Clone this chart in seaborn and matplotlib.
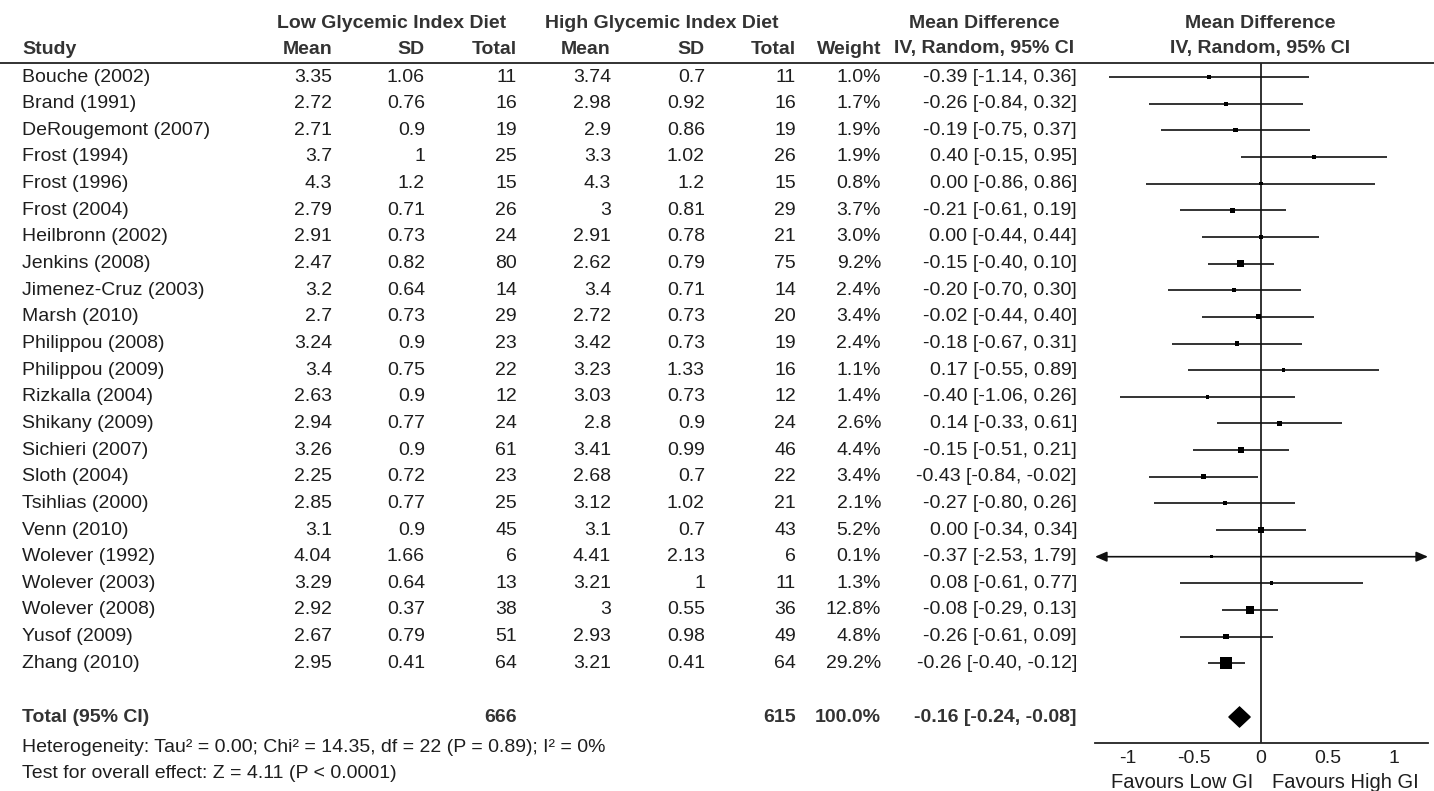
import numpy as np
import pandas as pd
import matplotlib
matplotlib.use("Agg")
import matplotlib.pyplot as plt
from matplotlib.lines import Line2D
import seaborn as sns

# ---- study data -------------------------------------------------------------
studies = ["Bouche (2002)", "Brand (1991)", "DeRougemont (2007)", "Frost (1994)",
           "Frost (1996)", "Frost (2004)", "Heilbronn (2002)", "Jenkins (2008)",
           "Jimenez-Cruz (2003)", "Marsh (2010)", "Philippou (2008)", "Philippou (2009)",
           "Rizkalla (2004)", "Shikany (2009)", "Sichieri (2007)", "Sloth (2004)",
           "Tsihlias (2000)", "Venn (2010)", "Wolever (1992)", "Wolever (2003)",
           "Wolever (2008)", "Yusof (2009)", "Zhang (2010)"]
low_mean = [3.35, 2.72, 2.71, 3.7, 4.3, 2.79, 2.91, 2.47, 3.2, 2.7, 3.24, 3.4,
            2.63, 2.94, 3.26, 2.25, 2.85, 3.1, 4.04, 3.29, 2.92, 2.67, 2.95]
low_sd = [1.06, 0.76, 0.9, 1, 1.2, 0.71, 0.73, 0.82, 0.64, 0.73, 0.9, 0.75,
          0.9, 0.77, 0.9, 0.72, 0.77, 0.9, 1.66, 0.64, 0.37, 0.79, 0.41]
low_n = [11, 16, 19, 25, 15, 26, 24, 80, 14, 29, 23, 22, 12, 24, 61, 23, 25, 45,
         6, 13, 38, 51, 64]
high_mean = [3.74, 2.98, 2.9, 3.3, 4.3, 3, 2.91, 2.62, 3.4, 2.72, 3.42, 3.23,
             3.03, 2.8, 3.41, 2.68, 3.12, 3.1, 4.41, 3.21, 3, 2.93, 3.21]
high_sd = [0.7, 0.92, 0.86, 1.02, 1.2, 0.81, 0.78, 0.79, 0.71, 0.73, 0.73, 1.33,
           0.73, 0.9, 0.99, 0.7, 1.02, 0.7, 2.13, 1, 0.55, 0.98, 0.41]
high_n = [11, 16, 19, 26, 15, 29, 21, 75, 14, 20, 19, 16, 12, 24, 46, 22, 21, 43,
          6, 11, 36, 49, 64]
weight = [1.0, 1.7, 1.9, 1.9, 0.8, 3.7, 3.0, 9.2, 2.4, 3.4, 2.4, 1.1, 1.4, 2.6,
          4.4, 3.4, 2.1, 5.2, 0.1, 1.3, 12.8, 4.8, 29.2]
mean_diff = [-0.39, -0.26, -0.19, 0.40, 0.00, -0.21, 0.00, -0.15, -0.20, -0.02,
             -0.18, 0.17, -0.40, 0.14, -0.15, -0.43, -0.27, 0.00, -0.37, 0.08,
             -0.08, -0.26, -0.26]
ci_low = [-1.14, -0.84, -0.75, -0.15, -0.86, -0.61, -0.44, -0.40, -0.70, -0.44,
          -0.67, -0.55, -1.06, -0.33, -0.51, -0.84, -0.80, -0.34, -2.53, -0.61,
          -0.29, -0.61, -0.40]
ci_high = [0.36, 0.32, 0.37, 0.95, 0.86, 0.19, 0.44, 0.10, 0.30, 0.40, 0.31, 0.89,
           0.26, 0.61, 0.21, -0.02, 0.26, 0.34, 1.79, 0.77, 0.13, 0.09, -0.12]

total_low_n = 666
total_high_n = 615
total_weight = 100.0
pooled_md, pooled_lo, pooled_hi = -0.16, -0.24, -0.08
heterogeneity = "Heterogeneity: Tau² = 0.00; Chi² = 14.35, df = 22 (P = 0.89); I² = 0%"
overall_effect = "Test for overall effect: Z = 4.11 (P < 0.0001)"
x_ticks = [-1, -0.5, 0, 0.5, 1]
x_tick_labels = ["-1", "-0.5", "0", "0.5", "1"]
favours_left = "Favours Low GI"
favours_right = "Favours High GI"

df = pd.DataFrame({
    "study": studies, "low_mean": low_mean, "low_sd": low_sd, "low_n": low_n,
    "high_mean": high_mean, "high_sd": high_sd, "high_n": high_n,
    "weight": weight, "md": mean_diff, "lo": ci_low, "hi": ci_high,
})

# ---- styling ----------------------------------------------------------------
sns.set_style("white")
plt.rcParams["font.family"] = ["Liberation Sans", "DejaVu Sans"]
TXT = "#1e1e1e"
HDR = "#333333"
FS = 14

W, H = 1434, 791
fig = plt.figure(figsize=(W / 100, H / 100), dpi=100)

# layout in pixel units
ROW0, ROWSTEP = 77.0, 26.65
df["y"] = ROW0 + ROWSTEP * np.arange(len(df))
Y_TOTAL, Y_HET, Y_TEST = 717, 747, 773
Y_H1, Y_H2 = 23, 49
LINE_Y, AXIS_Y = 63, 743
AX_L, AX_R = 1095, 1428

# table layer spanning the whole figure
tab = fig.add_axes([0, 0, 1, 1])
tab.set_xlim(0, W)
tab.set_ylim(H, 0)
tab.axis("off")

def fmt(v):
    return f"{v:g}"

X_STUDY = 22
col_right = {"low_mean": 332, "low_sd": 425, "low_n": 517,
             "high_mean": 611, "high_sd": 705, "high_n": 796,
             "weight": 881, "ci": 1077}

# header
hkw = dict(fontsize=FS, fontweight="bold", color=HDR, va="center")
tab.text(392, Y_H1, "Low Glycemic Index Diet", ha="center", **hkw)
tab.text(662, Y_H1, "High Glycemic Index Diet", ha="center", **hkw)
tab.text(984, Y_H1, "Mean Difference", ha="center", **hkw)
tab.text(X_STUDY, Y_H2, "Study", ha="left", **hkw)
for key, lab in [("low_mean", "Mean"), ("low_sd", "SD"), ("low_n", "Total"),
                 ("high_mean", "Mean"), ("high_sd", "SD"), ("high_n", "Total"),
                 ("weight", "Weight")]:
    tab.text(col_right[key], Y_H2, lab, ha="right", **hkw)
tab.text(984, Y_H2, "IV, Random, 95% CI", ha="center", **hkw)
fx = 1260
tab.text(fx, Y_H1, "Mean Difference", ha="center", **hkw)
tab.text(fx, Y_H2, "IV, Random, 95% CI", ha="center", **hkw)
fig.add_artist(Line2D([0, 1], [1 - LINE_Y / H] * 2, color="#222222", lw=1.3))

# study rows
bkw = dict(fontsize=FS, color=TXT, va="center")
for _, r in df.iterrows():
    tab.text(X_STUDY, r.y, r.study, ha="left", **bkw)
    for key in ["low_mean", "low_sd", "low_n", "high_mean", "high_sd", "high_n"]:
        tab.text(col_right[key], r.y, fmt(r[key]), ha="right", **bkw)
    tab.text(col_right["weight"], r.y, f"{r.weight:.1f}%", ha="right", **bkw)
    tab.text(col_right["ci"], r.y, f"{r.md:.2f} [{r.lo:.2f}, {r.hi:.2f}]",
             ha="right", **bkw)

# total row
tkw = dict(fontsize=FS, fontweight="bold", color=HDR, va="center")
tab.text(X_STUDY, Y_TOTAL, "Total (95% CI)", ha="left", **tkw)
tab.text(col_right["low_n"], Y_TOTAL, str(total_low_n), ha="right", **tkw)
tab.text(col_right["high_n"], Y_TOTAL, str(total_high_n), ha="right", **tkw)
tab.text(col_right["weight"], Y_TOTAL, f"{total_weight:.1f}%", ha="right", **tkw)
tab.text(col_right["ci"], Y_TOTAL,
         f"{pooled_md:.2f} [{pooled_lo:.2f}, {pooled_hi:.2f}]", ha="right", **tkw)
tab.text(X_STUDY, Y_HET, heterogeneity, ha="left", **bkw)
tab.text(X_STUDY, Y_TEST, overall_effect, ha="left", **bkw)

# ---- forest panel -----------------------------------------------------------
ax = fig.add_axes([AX_L / W, 1 - AXIS_Y / H, (AX_R - AX_L) / W, (AXIS_Y - LINE_Y) / H])
ax.patch.set_alpha(0)
XMIN, XMAX = -1.245, 1.255
ax.set_xlim(XMIN, XMAX)
ax.set_ylim(AXIS_Y, LINE_Y)
for s in ["top", "left", "right"]:
    ax.spines[s].set_visible(False)
ax.spines["bottom"].set_color("#222222")
ax.spines["bottom"].set_linewidth(1.3)
ax.set_yticks([])
ax.set_xticks(x_ticks)
ax.set_xticklabels(x_tick_labels)
ax.tick_params(axis="x", direction="inout", length=10, width=1.2, color="#222222",
               labelsize=FS, labelcolor=TXT, pad=0)
ax.axvline(0, color="#222222", lw=1.3, zorder=1)

LC = "#111111"
ARROW = dict(arrowstyle="-|>,head_length=0.7,head_width=0.3",
             color=LC, lw=1.2, shrinkA=0, shrinkB=0)
for _, r in df.iterrows():
    lo, hi = r.lo, r.hi
    if lo < XMIN or hi > XMAX:
        if lo < XMIN:
            ax.annotate("", xy=(XMIN, r.y), xytext=(r.md, r.y), arrowprops=ARROW)
        else:
            ax.plot([lo, r.md], [r.y, r.y], color=LC, lw=1.2)
        if hi > XMAX:
            ax.annotate("", xy=(XMAX, r.y), xytext=(r.md, r.y), arrowprops=ARROW)
        else:
            ax.plot([r.md, hi], [r.y, r.y], color=LC, lw=1.2)
    else:
        ax.plot([lo, hi], [r.y, r.y], color=LC, lw=1.2, solid_capstyle="butt")

# squares: area proportional to weight
sns.scatterplot(data=df, x="md", y="y", size="weight", sizes=(4, 75),
                size_norm=(0, 29.2), marker="s", color="black", edgecolor="black",
                linewidth=0, legend=False, ax=ax, zorder=3, clip_on=False)
ax.set_xlabel("")
ax.set_ylabel("")

# pooled diamond
dh = 10
ax.fill([pooled_lo, pooled_md, pooled_hi, pooled_md],
        [Y_TOTAL, Y_TOTAL - dh, Y_TOTAL, Y_TOTAL + dh], color="black", zorder=3)

# direction labels
tab.text(1253, 782, favours_left, ha="right", va="center", fontsize=14.5, color=TXT)
tab.text(1272, 782, favours_right, ha="left", va="center", fontsize=14.5, color=TXT)

fig.savefig("out.png", dpi=100)
